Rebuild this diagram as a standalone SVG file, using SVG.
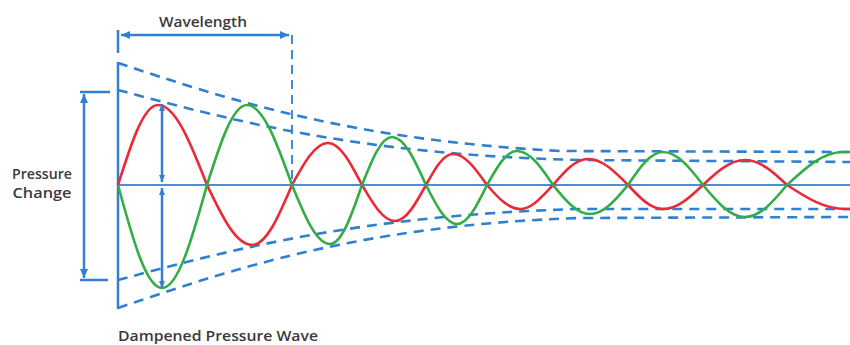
<svg xmlns="http://www.w3.org/2000/svg" width="850" height="345" viewBox="0 0 850 345">
  <defs>
    <style>
      .blue { stroke: #2f80d0; stroke-width: 2.5; fill: none; }
      .axis { stroke: #4a90d9; stroke-width: 2; fill: none; }
      .dash { stroke: #2f80d0; stroke-width: 2.6; fill: none; stroke-dasharray: 10 7; }
      .vdash { stroke: #2f80d0; stroke-width: 1.8; fill: none; stroke-dasharray: 9 6; }
      .red { stroke: #ea2a36; stroke-width: 2.6; fill: none; }
      .green { stroke: #33ad45; stroke-width: 2.6; fill: none; }
      .label { font-family: "Open Sans", "Noto Sans", sans-serif; font-size: 15px; font-weight: 600; fill: #3a3a3a; }
      .small { font-size: 14px; }
    </style>
    <marker id="ah" viewBox="0 0 9 8" refX="9" refY="4" markerWidth="9" markerHeight="8" markerUnits="userSpaceOnUse" orient="auto-start-reverse">
      <path d="M0,0 L9,4 L0,8 z" fill="#2f80d0"/>
    </marker>
    <marker id="ahs" viewBox="0 0 7 6" refX="7" refY="3" markerWidth="7" markerHeight="6" markerUnits="userSpaceOnUse" orient="auto-start-reverse">
      <path d="M0,0 L7,3 L0,6 z" fill="#2f80d0"/>
    </marker>
  </defs>

  <g id="envelope">
    <path class="dash" d="M118,63 C230,100 350,140 560,151 L850,152"/>
    <path class="dash" d="M118,90 C230,120 360,155 580,160 L850,162"/>
    <path class="dash" d="M118,280 C230,250 360,215 580,209 L850,209"/>
    <path class="dash" d="M118,308 C230,270 360,225 580,218 L850,217"/>
  </g>

  <g id="axes">
    <line class="axis" x1="118" y1="185" x2="850" y2="185"/>
    <line class="blue" x1="118" y1="62" x2="118" y2="309"/>
  </g>

  <g id="red-wave">
    <path class="red" d="M118,185 C131.0,144.0 143.5,105 158,105 C175.7,105 191.0,144.0 207,185 C221.7,215.7 235.7,245 252,245 C266.5,245 279.0,215.7 292,185 C303.7,163.5 315.0,143 328,143 C340.3,143 350.9,163.5 362,185 C372.8,203.4 383.1,221 395,221 C406.2,221 415.9,203.4 426,185 C434.8,169.1 443.2,154 453,154 C465.3,154 475.9,169.1 487,185 C497.8,197.3 508.1,209 520,209 C531.9,209 541.2,197.3 553,185 C564.4,171.7 575.3,159 588,159 C602.5,159 615.0,171.7 628,185 C639.4,197.3 650.3,209 663,209 C677.5,209 690.0,197.3 703,185 C716.7,172.2 729.8,160 745,160 C760.2,160 773.3,172.2 787,185 C805.9,197.3 824.0,209 845,209 L860,209"/>
  </g>

  <g id="green-wave">
    <path class="green" d="M118,185 C132.3,237.7 146.1,288 162,288 C178.3,288 192.3,237.7 207,185 C220.0,144.0 232.5,105 247,105 C263.3,105 277.3,144.0 292,185 C304.4,215.2 316.2,244 330,244 C341.6,244 351.6,215.2 362,185 C371.8,160.4 381.1,137 392,137 C404.3,137 414.9,160.4 426,185 C436.1,205.0 445.8,224 457,224 C467.9,224 477.2,205.0 487,185 C496.8,167.6 506.1,151 517,151 C530.0,151 541.3,167.6 553,185 C565.1,199.8 576.6,214 590,214 C603.8,214 615.6,199.8 628,185 C639.4,168.1 650.3,152 663,152 C677.5,152 690.0,168.1 703,185 C716.7,201.4 729.8,217 745,217 C760.2,217 773.3,201.4 787,185 C805.3,168.1 822.7,152 843,152 L860,152"/>
  </g>

  <g id="connectors">
    <line class="blue" x1="162" y1="104" x2="162" y2="182" marker-start="url(#ahs)" marker-end="url(#ahs)"/>
    <line class="blue" x1="162" y1="188" x2="162" y2="288" marker-start="url(#ahs)" marker-end="url(#ahs)"/>
  </g>

  <g id="wavelength">
    <line class="blue" x1="118" y1="30" x2="118" y2="53"/>
    <line class="blue" x1="121" y1="35" x2="289" y2="35" marker-start="url(#ah)" marker-end="url(#ah)"/>
    <line class="vdash" x1="292" y1="35" x2="292" y2="183"/>
    <text class="label" x="203" y="27" text-anchor="middle" textLength="88" lengthAdjust="spacingAndGlyphs">Wavelength</text>
  </g>

  <g id="pressure-change">
    <line class="blue" x1="80" y1="92" x2="110" y2="92"/>
    <line class="blue" x1="80" y1="280" x2="108" y2="280" stroke-width="3"/>
    <line class="blue" x1="84" y1="94" x2="84" y2="278" marker-start="url(#ah)" marker-end="url(#ah)"/>
    <text class="label small" x="42" y="179" text-anchor="middle" textLength="60" lengthAdjust="spacingAndGlyphs">Pressure</text>
    <text class="label small" x="42" y="198" text-anchor="middle" textLength="59" lengthAdjust="spacingAndGlyphs">Change</text>
  </g>

  <g id="title">
    <text class="label" x="118" y="341" textLength="200" lengthAdjust="spacingAndGlyphs">Dampened Pressure Wave</text>
  </g>
</svg>
